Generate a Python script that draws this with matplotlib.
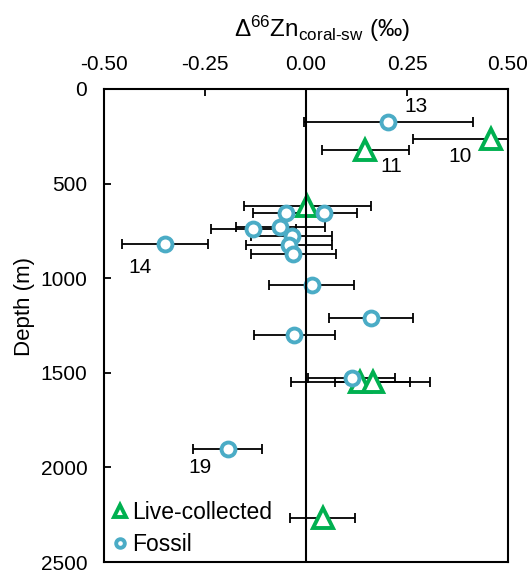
import matplotlib
matplotlib.use('Agg')
import matplotlib.pyplot as plt

plt.rcParams['font.family'] = ['Liberation Sans', 'DejaVu Sans']
plt.rcParams['mathtext.fontset'] = 'custom'
plt.rcParams['mathtext.rm'] = 'Liberation Sans'
plt.rcParams['mathtext.it'] = 'Liberation Sans:italic'
plt.rcParams['axes.unicode_minus'] = False

# live-collected corals
live_zn = [0.458, 0.147, 0.003, 0.134, 0.165, 0.041]
live_depth = [266, 322, 617, 1550, 1550, 2266]
live_err = [0.194, 0.107, 0.157, 0.172, 0.092, 0.081]

# fossil corals
fossil_zn = [0.204, -0.050, 0.045, -0.130, -0.064, -0.035, -0.042, -0.031,
             -0.349, 0.014, 0.161, -0.029, 0.113, -0.194]
fossil_depth = [173, 657, 657, 740, 728, 778, 822, 870,
                821, 1036, 1209, 1300, 1526, 1904]
fossil_err = [0.21, 0.08, 0.08, 0.105, 0.11, 0.10, 0.107, 0.106,
              0.107, 0.106, 0.105, 0.10, 0.108, 0.086]

# sample numbers written next to some points
label_txt = ['13', '10', '11', '14', '19']
label_zn = [0.273, 0.381, 0.212, -0.411, -0.262]
label_depth = [92, 358, 411, 946, 2003]

green = '#00B050'
blue = '#4BACC6'

fig = plt.figure(figsize=(5.31, 5.70), dpi=100)
ax = fig.add_axes([104/531, 1-562/570, 404/531, 473/570])

ax.errorbar(live_zn, live_depth, xerr=live_err, fmt='none', ecolor='black',
            elinewidth=1.3, capsize=3.6, capthick=1.3, zorder=2)
ax.errorbar(fossil_zn, fossil_depth, xerr=fossil_err, fmt='none', ecolor='black',
            elinewidth=1.3, capsize=3.6, capthick=1.3, zorder=2)

h_live, = ax.plot(live_zn, live_depth, '^', ms=14, mew=2.8, mfc='white',
                  mec=green, ls='none', zorder=3, label='Live-collected')
h_fos, = ax.plot(fossil_zn, fossil_depth, 'o', ms=10, mew=2.8, mfc='white',
                 mec=blue, ls='none', zorder=3, label='Fossil')

ax.axvline(0, color='black', lw=1.5, zorder=4)

for t, xx, yy in zip(label_txt, label_zn, label_depth):
    ax.text(xx, yy, t, fontsize=15, ha='center', va='center')

ax.set_xlim(-0.5, 0.5)
ax.set_ylim(2500, 0)
ax.set_xticks([-0.5, -0.25, 0, 0.25, 0.5])
ax.set_xticklabels(['%.2f' % v for v in [-0.5, -0.25, 0, 0.25, 0.5]])
ax.set_yticks([0, 500, 1000, 1500, 2000, 2500])
ax.xaxis.tick_top()
ax.xaxis.set_label_position('top')
ax.tick_params(axis='both', direction='in', length=5, width=1.3, labelsize=15)
ax.tick_params(axis='x', pad=11)
ax.tick_params(axis='y', pad=12)
for s in ax.spines.values():
    s.set_linewidth(1.5)

ax.set_xlabel('$\\Delta^{66}$Zn$_{\\mathrm{coral\u2010sw}}$ (‰)', fontsize=17.5)
ax.xaxis.set_label_coords(0.54, 1.11)
ax.set_ylabel('Depth (m)', fontsize=16)
ax.yaxis.set_label_coords(-0.171, 0.54)

ax.legend(handles=[h_live, h_fos], loc='lower left', bbox_to_anchor=(-0.012, -0.017),
          frameon=False, markerscale=0.62, handlelength=0.6, handletextpad=0.25,
          fontsize=16.5, borderaxespad=0.2, labelspacing=0.4)

fig.savefig('out.png', dpi=100)
